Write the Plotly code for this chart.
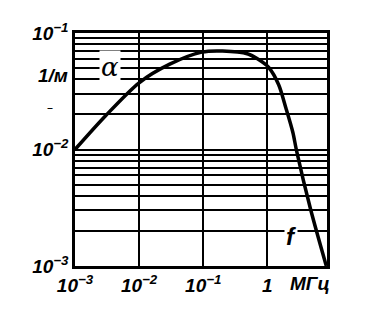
import plotly.graph_objects as go

# data (f in MHz, alpha in 1/m)
freq = [0.001, 0.003, 0.01, 0.03, 0.095, 0.2, 0.5, 0.7, 1.05, 1.5, 1.95, 2.5, 2.85, 4.7, 8.3]
alpha = [0.010, 0.0195, 0.0374, 0.054, 0.0685, 0.070, 0.066, 0.060, 0.0506, 0.036, 0.0226, 0.014, 0.0098, 0.0031, 0.001]

x_ticks = [0.001, 0.01, 0.1, 1]
x_labels = ["10<sup>−3</sup>", "10<sup>−2</sup>", "10<sup>−1</sup>", "1"]

y_ticks = [m * 10.0 ** e for e in (-3, -2) for m in range(1, 10)] + [0.1]
y_labels = [("10<sup>−3</sup>" if v == 1e-3 else "10<sup>−2</sup>" if abs(v - 1e-2) < 1e-12 else "") for v in y_ticks[:-1]] + ["10<sup>−1</sup>"]

FONT = dict(family="Liberation Sans", size=19, color="black", style="italic", weight="bold")

fig = go.Figure()
fig.add_trace(go.Scatter(x=freq, y=alpha, mode="lines", line=dict(color="black", width=3.5, shape="spline", smoothing=0.8),
                         hoverinfo="skip", showlegend=False))

fig.update_layout(
    width=371, height=312, margin=dict(l=75, r=44, t=33, b=46),
    paper_bgcolor="white", plot_bgcolor="white",
    xaxis=dict(type="log", range=[-3, 0.93], tickvals=x_ticks, ticktext=x_labels,
               showgrid=True, gridcolor="black", gridwidth=1.5, ticks="", tickfont=FONT,
               showline=True, linecolor="black", linewidth=2.5, mirror=True, zeroline=False),
    yaxis=dict(type="log", range=[-3, -1], tickvals=y_ticks, ticktext=y_labels,
               showgrid=True, gridcolor="black", gridwidth=1.5, ticks="", tickfont=FONT,
               showline=True, linecolor="black", linewidth=2.5, mirror=True, zeroline=False),
)

ann_font = dict(family="Liberation Sans", size=19, color="black", style="italic", weight="bold")
fig.add_annotation(text="α", xref="paper", yref="paper", x=0.095, y=0.927, showarrow=False,
                   font=dict(family="DejaVu Serif", size=26, color="black", style="italic"), bgcolor="white")
fig.add_annotation(text="1/м", xref="paper", yref="paper", x=-0.02, y=0.87, xanchor="right", showarrow=False, font=ann_font)
fig.add_annotation(text="–", xref="paper", yref="paper", x=-0.12, y=0.725, showarrow=False, font=dict(size=12, color="black"))
fig.add_annotation(text="f", xref="paper", yref="paper", x=0.885, y=0.06, showarrow=False,
                   font=dict(family="Liberation Sans", size=24, color="black", style="italic", weight="bold"), bgcolor="white")
fig.add_annotation(text="МГц", xref="paper", yref="paper", x=0.845, y=-0.075, xanchor="left", yanchor="middle",
                   showarrow=False, font=ann_font)

fig.write_html("out.html")
